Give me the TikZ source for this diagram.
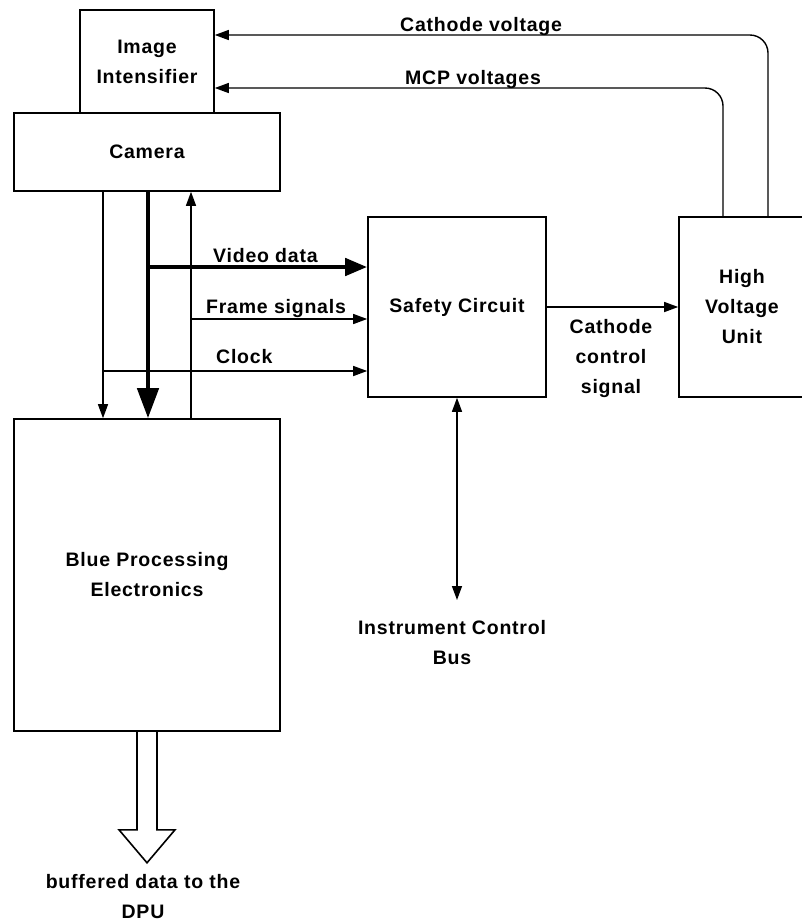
\documentclass[tikz,border=0pt]{standalone}
\usepackage{fontspec}
\setmainfont{Liberation Sans}[LetterSpace=4]
\usepackage{tikz}
\usetikzlibrary{arrows.meta}

\begin{document}
\begin{tikzpicture}[
x=1pt, y=-1pt,
blockbox/.style={
  draw,
  line width=1.6pt,
  align=center,
  inner sep=0pt
  },
lbl/.style={
  align=center,
  inner sep=0pt
  },
every node/.append style={font=\bfseries\fontsize{19.5}{30}\selectfont},
sig/.style={line width=1.4pt, -{Triangle[length=14pt,width=10pt]}},
bus/.style={line width=1.4pt, {Triangle[length=14pt,width=10pt]}-{Triangle[length=14pt,width=10pt]}},
fat/.style={line width=4.5pt, -{Triangle[length=30pt,width=21pt]}},
fatside/.style={line width=4.5pt, -{Triangle[length=22pt,width=17pt]}},
feed/.style={line width=1.4pt, rounded corners=18pt, -{Triangle[length=14pt,width=10pt]}}
]
\useasboundingbox (0,0) rectangle (802,922);
% blocks
\node[blockbox, minimum width=134pt, minimum height=103pt] (ii) at (147,61.5) {Image\\Intensifier};
\node[blockbox, minimum width=266pt, minimum height=78pt] (cam) at (147,152) {Camera};
\node[blockbox, minimum width=266pt, minimum height=312pt] (blue) at (147,575) {Blue Processing\\Electronics};
\node[blockbox, minimum width=178pt, minimum height=180pt] (safety) at (457,307) {Safety Circuit};
\node[blockbox, minimum width=126pt, minimum height=180pt] (hv) at (742,307) {High\\Voltage\\Unit};
\node[lbl] (icb) at (452,643) {Instrument Control\\Bus};
\node[lbl] (dpu) at (143,897) {buffered data to the\\DPU};
% tap points
\coordinate (clk) at (103,371);
\coordinate (vid) at (148,267);
\coordinate (frm) at (191,319);
\coordinate (cv) at (768,35);
\coordinate (mcp) at (723,88);
\coordinate (busend) at (457,600);
% camera <-> processing
\draw[sig] (cam.south -| clk) -- (blue.north -| clk);
\draw[fat] (cam.south -| vid) -- (blue.north -| vid);
\draw[sig] (blue.north -| frm) -- (cam.south -| frm);
% signals to safety circuit
\draw[fatside] (vid) -- (safety.west |- vid);
\draw[sig] (frm) -- (safety.west |- frm);
\draw[sig] (clk) -- (safety.west |- clk);
\node[lbl, anchor=base west] (vidl) at (213,262) {Video data};
\node[lbl, anchor=base west] (frml) at (206,313) {Frame signals};
\node[lbl, anchor=base west] (clkl) at (216,363) {Clock};
% safety circuit out
\draw[sig] (safety.east) -- (hv.west);
\node[lbl] (ccs) at (611,358) {Cathode\\control\\signal};
\draw[bus] (safety.south) -- (busend);
% high voltages back to intensifier
\draw[feed] (hv.north -| cv) |- (ii.east |- cv);
\draw[feed] (hv.north -| mcp) |- (ii.east |- mcp);
\node[lbl, anchor=base west] (cvl) at (400,31) {Cathode voltage};
\node[lbl, anchor=base west] (mcpl) at (405,84) {MCP voltages};
% buffered output
\draw[line width=1.6pt] (blue.south) ++(-10,0) -- ++(0,98) -- ++(-18,0) -- ++(28,33) -- ++(28,-33) -- ++(-18,0) -- ++(0,-98);
\end{tikzpicture}
\end{document}
